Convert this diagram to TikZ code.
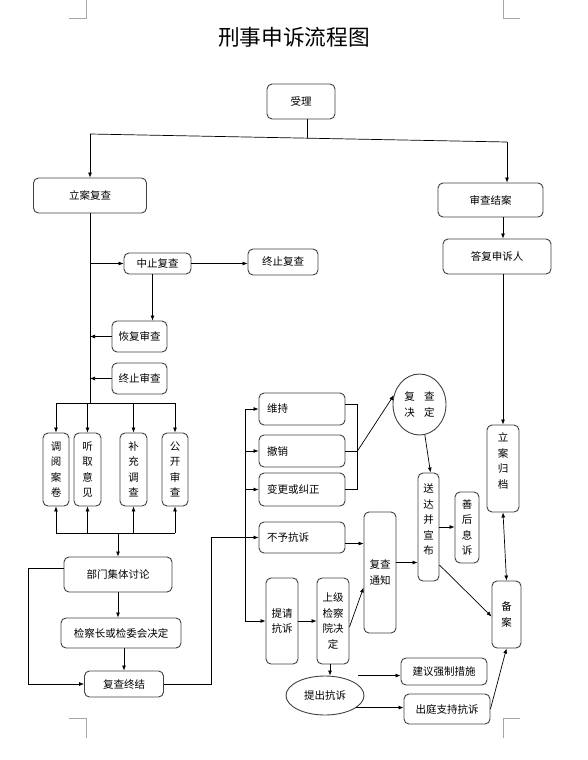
\documentclass[tikz,border=0pt]{standalone}
\usepackage{fontspec}
\setmainfont{Noto Sans CJK SC}
\usetikzlibrary{positioning, shapes.geometric, arrows.meta}
\tikzset{
>={Latex[length=5pt,width=4pt]}, % arrow tip of every connector
box/.style={draw=black!75, line width=0.9pt, rounded corners=5pt, inner sep=2pt, font=\fontsize{10.5}{13}\selectfont}, % plain rounded box
vbox/.style={box, align=center, font=\fontsize{10.5}{15.5}\selectfont}, % box with text set upright, one or two signs a line
lbox/.style={box, align=left, text width=70pt, inner xsep=8pt}, % box with text on the left
oval/.style={ellipse, draw=black!75, line width=0.9pt, inner sep=0pt, align=center, font=\fontsize{10.5}{16}\selectfont},
link/.style={line width=0.7pt}, % connectors
cropmark/.style={draw=black!35, line width=0.6pt}, % page corners
}

\begin{document}
\begin{tikzpicture}[x=1pt, y=-1pt]
\useasboundingbox (0,0) rectangle (587,760);

% page corners
\draw[cropmark] (69,18.7) -- (86.6,18.7) -- (86.6,0);
\draw[cropmark] (503,0) -- (503,18.7) -- (520,18.7);
\draw[cropmark] (69,718) -- (86.6,718) -- (86.6,738);
\draw[cropmark] (503,738) -- (503,718) -- (520,718);

\node[font=\fontsize{21.7}{24}\selectfont] at (294,37) (title) {刑事申诉流程图};

\node[box, minimum width=68pt, minimum height=35pt] at (301,101.5) (accept) {受理};
\node[box, minimum width=113pt, minimum height=35pt] at (90,195.5) (refile) {立案复查};
\node[box, minimum width=67pt, minimum height=21pt] at (157.5,263.5) (suspend) {中止复查};
\node[box, minimum width=70pt, minimum height=26pt] at (283,262) (endreview) {终止复查};
\node[box, minimum width=55pt, minimum height=31pt] at (139.5,336.5) (resume) {恢复审查};
\node[box, minimum width=55pt, minimum height=31pt] at (139.5,378.5) (endexam) {终止审查};

\node[vbox, minimum width=26pt, minimum height=73pt] at (56,469.5) (dossier) {调\\阅\\案\\卷};
\node[vbox, minimum width=27pt, minimum height=73pt] at (87.5,469.5) (hear) {听\\取\\意\\见};
\node[vbox, minimum width=27pt, minimum height=73pt] at (133.5,469.5) (extra) {补\\充\\调\\查};
\node[vbox, minimum width=26pt, minimum height=73pt] at (175,469.5) (public) {公\\开\\审\\查};

\node[box, minimum width=108pt, minimum height=35pt] at (118,574.5) (discuss) {部门集体讨论};
\node[box, minimum width=120pt, minimum height=30pt] at (121,633) (chief) {检察长或检委会决定};
\node[box, minimum width=79pt, minimum height=26pt] at (124,684) (concl) {复查终结};

\node[lbox, minimum height=32pt] at (302,409) (keep) {维持};
\node[lbox, minimum height=32pt] at (302,451) (revoke) {撤销};
\node[lbox, minimum height=33pt] at (302,489.5) (change) {变更或纠正};
\node[lbox, minimum height=31pt] at (302,537.5) (noprot) {不予抗诉};

\node[oval, minimum width=53pt, minimum height=61pt] at (419.5,404.5) (decision) {复\hspace{0.9em}查\\决\hspace{0.9em}定};
\node[vbox, minimum width=21pt, minimum height=108pt] at (428.5,527) (deliver) {送\\达\\并\\宣\\布\\~};
\node[vbox, minimum width=24pt, minimum height=71pt] at (467,527.5) (after) {善\\后\\息\\诉};
\node[vbox, minimum width=32pt, minimum height=121pt] at (380,572.5) (notice) {复查\\通知};
\node[vbox, minimum width=32pt, minimum height=86pt] at (282,621) (request) {提请\\抗诉};
\node[vbox, minimum width=32pt, minimum height=86pt] at (333,621) (upper) {上级\\检察\\院决\\定};
\node[oval, minimum width=78pt, minimum height=39pt] at (325,695.5) (protest) {提出抗诉};
\node[box, minimum width=86pt, minimum height=27pt] at (444,671.5) (measure) {建议强制措施};
\node[box, minimum width=86pt, minimum height=30pt] at (447,709) (support) {出庭支持抗诉};
\node[vbox, minimum width=29pt, minimum height=67pt] at (506.5,614.5) (record) {备\\案};
\node[vbox, minimum width=32pt, minimum height=87pt] at (503,468.5) (archive) {立\\案\\归\\档\\~};
\node[box, minimum width=105pt, minimum height=34pt] at (490.5,200) (exam) {审查结案};
\node[box, minimum width=108pt, minimum height=35pt] at (497,256.5) (reply) {答复申诉人};

% top split
\coordinate (split l) at (90,134);
\coordinate (split r) at (507,142);
\draw[link] (split l) -- (split r);
\draw[link] ([xshift=6pt]accept.south) -- ++(0,19);
\draw[link,->] (split l) -- (split l |- refile.north);
\draw[link,->] (split r) -- (split r |- exam.north);

% left column
\coordinate (bus top) at (90,403);
\coordinate (bus bot) at (118,533);
\draw[link] (refile.south) -- (bus top);
\draw[link] (dossier.north |- bus top) -- (public.north |- bus top);
\draw[link] (dossier.south |- bus bot) -- (public.south |- bus bot);
\foreach \n in {dossier, hear, extra, public} {
  \draw[link,->] (\n.north |- bus top) -- (\n.north);
  \draw[link,->] (\n.south |- bus bot) -- (\n.south);
}
\draw[link,->] (bus bot) -- (discuss.north);
\draw[link,->] (refile.south |- suspend.west) -- (suspend.west);
\draw[link,->] (suspend.east) -- (suspend.east -| endreview.west);
\draw[link,->] ([xshift=-5pt]suspend.south) -- ([xshift=-5pt]suspend.south |- resume.north);
\draw[link,->] (resume.west) -- (resume.west -| refile.south);
\draw[link,->] (endexam.west) -- (endexam.west -| refile.south);
\draw[link,->] (discuss.south) -- (discuss.south |- chief.north);
\draw[link,->] (concl.north |- chief.south) -- (concl.north);
\draw[link,->] ([yshift=6pt]discuss.west) -- ++(-35,0) |- (concl.west);
\draw[link,->] (concl.east) -- ++(47,0) |- (noprot.west);

% results of the review
\coordinate (fan) at (245,0);
\draw[link] (keep.west -| fan) -- (request.west -| fan);
\foreach \n in {keep, revoke, change, request}
  \draw[link,->] (\n.west -| fan) -- (\n.west);
\draw[link] ([yshift=5pt]keep.east) -- ++(12,0) |- (change.east);
\draw[link] (revoke.east) -- ++(12,0) coordinate (join);
\draw[link,->] (join) -- (decision.160);
\draw[link,->] (decision.-80) -- ([xshift=2pt]deliver.north);
\draw[link,->] (deliver.east) -- (deliver.east -| after.west);
\draw[link,->] ([yshift=-6pt]noprot.east) -- ([yshift=-6pt]noprot.east -| notice.west);
\draw[link,->] ([yshift=10pt]notice.east) -- ([yshift=10pt]notice.east -| deliver.west);
\draw[link,->] (request) -- (upper);
\draw[link,->] ([yshift=-6pt]upper.east) -- ([yshift=46pt]notice.south west);
\draw[link,->] ([xshift=-3pt]upper.south) -- ([xshift=-3pt]upper.south |- protest.north);
\draw[link,->] ([xshift=33pt]protest.north) -- (protest.north -| measure.west);
\draw[link,->] (protest.-21) -- (protest.-21 -| support.west);
\draw[link,->] (support.east) -- (record.south);
\draw[link,->] ([yshift=-38pt]deliver.east) -- ([yshift=-2pt]record.west);

% right column
\draw[link,->] (exam.south -| archive.north) -- (reply.north -| archive.north);
\draw[link,->] (reply.south -| archive.north) -- (archive.north);
\draw[link,<->] (archive.south) -- (record.north);

\end{tikzpicture}
\end{document}
